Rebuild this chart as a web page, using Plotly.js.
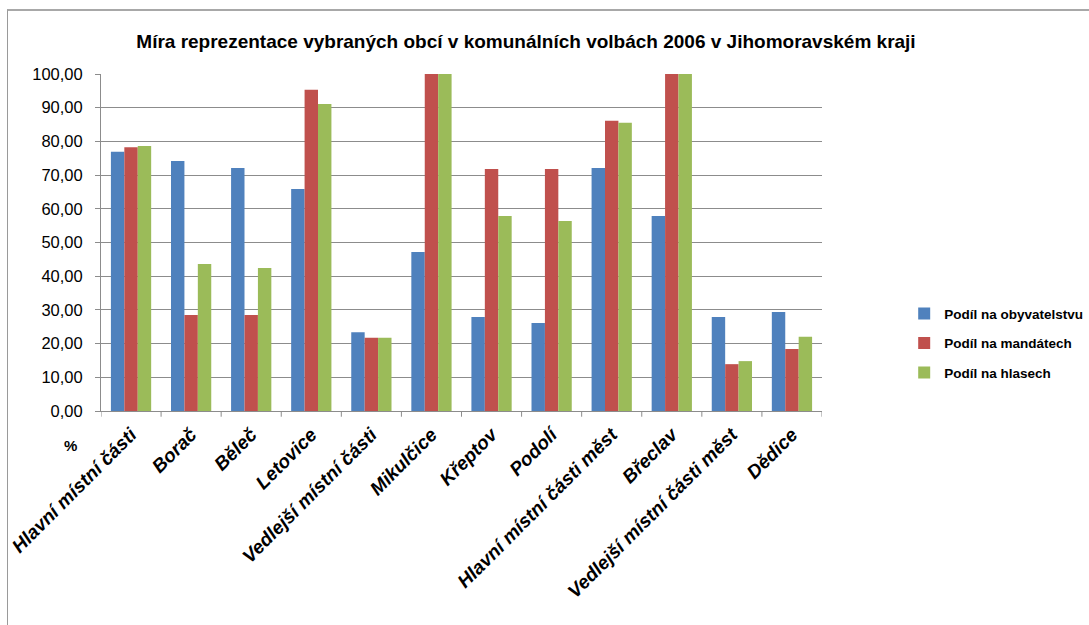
<!DOCTYPE html>
<html>
<head>
<meta charset="utf-8">
<script src="https://cdn.plot.ly/plotly-3.0.1.min.js"></script>
<style>
  html, body { margin: 0; padding: 0; background: #fff; }
  #chart { width: 1089px; height: 625px; }
  #frame { position: absolute; left: 7px; top: 9px; width: 1100px; height: 640px;
           border-left: 1px solid #9a9a9a; border-top: 2px solid #a8a8a8; pointer-events: none; }
</style>
</head>
<body>
<div id="chart"></div>
<div id="frame"></div>
<script>
const categories = [
  "Hlavní místní části", "Borač", "Běleč", "Letovice", "Vedlejší místní části",
  "Mikulčice", "Křeptov", "Podolí", "Hlavní místní části měst", "Břeclav",
  "Vedlejší místní části měst", "Dědice"
];
const categoryKeys = categories.map((c, i) => i);
const obyvatelstvo = [76.9, 74.2, 72.1, 65.9, 23.4, 47.2, 27.9, 26.1, 72.1, 57.9, 27.9, 29.4];
const mandaty      = [78.3, 28.5, 28.5, 95.3, 21.7, 100.0, 71.8, 71.8, 86.1, 100.0, 13.9, 18.4];
const hlasy        = [78.6, 43.6, 42.4, 91.1, 21.7, 100.0, 57.9, 56.4, 85.5, 100.0, 14.8, 22.0];
const seriesNames = ["Podíl na obyvatelstvu", "Podíl na mandátech", "Podíl na hlasech"];
const seriesColors = ["#4f81bd", "#c0504d", "#9bbb59"];
const yTicks = [0, 10, 20, 30, 40, 50, 60, 70, 80, 90, 100];

const seriesValues = [obyvatelstvo, mandaty, hlasy];
const traces = seriesValues.map((vals, i) => ({
  type: "bar",
  x: categoryKeys,
  y: vals,
  name: seriesNames[i],
  legendgroup: "g" + i,
  marker: { color: seriesColors[i], line: { width: 0 } },
  hoverinfo: "x+y+name"
}));

const layout = {
  width: 1089, height: 625,
  margin: { l: 101, r: 267, t: 74, b: 214, autoexpand: false },
  paper_bgcolor: "#ffffff", plot_bgcolor: "#ffffff",
  separators: ", ",
  barmode: "group", bargap: 0.33, bargroupgap: 0,
  title: {
    text: "Míra reprezentace vybraných obcí v komunálních volbách 2006 v Jihomoravském kraji",
    font: { family: "Liberation Sans, Arial, sans-serif", size: 19, color: "#000", weight: "bold" },
    x: 0.483, xref: "container", xanchor: "center", y: 0.945, yref: "container"
  },
  font: { family: "Liberation Sans, Arial, sans-serif", color: "#000" },
  xaxis: {
    type: "linear",
    tickmode: "array",
    tickvals: categoryKeys,
    ticktext: categories,
    range: [-0.5, categories.length - 0.5],
    tickangle: -45,
    tickfont: { size: 19, color: "#000", weight: "bold", style: "italic" },
    ticks: "",
    ticklabelstandoff: 4,
    automargin: false,
    showline: true, linecolor: "#8c8c8c", linewidth: 1,
    showgrid: false, zeroline: false, fixedrange: true
  },
  yaxis: {
    range: [0, 100],
    tickmode: "array",
    tickvals: yTicks,
    tickformat: ".2f",
    tickfont: { size: 16.5, color: "#000" },
    ticks: "outside", ticklen: 5, tickcolor: "#8c8c8c",
    ticklabelstandoff: 9,
    automargin: false,
    showline: true, linecolor: "#8c8c8c", linewidth: 1,
    showgrid: true, gridcolor: "#8c8c8c", gridwidth: 1,
    zeroline: false, fixedrange: true
  },
  legend: {
    x: 1.114, xanchor: "left", y: 0.335, yanchor: "top",
    traceorder: "grouped", tracegroupgap: 9,
    font: { size: 13.5, color: "#000", weight: "bold" },
    bgcolor: "rgba(0,0,0,0)", itemclick: false, itemdoubleclick: false
  },
  annotations: [{
    text: "%", xref: "paper", yref: "paper", x: -0.054, y: -0.135,
    showarrow: false, font: { size: 15, color: "#000", weight: "bold" }
  }],
  shapes: categoryKeys.concat([categories.length]).map(k => ({
    type: "line", xref: "x", yref: "paper",
    x0: k - 0.5, x1: k - 0.5, y0: 0, y1: -0.017,
    line: { color: "#8c8c8c", width: 1 }
  }))
};

Plotly.newPlot("chart", traces, layout, { displayModeBar: false, staticPlot: false });
</script>
</body>
</html>
